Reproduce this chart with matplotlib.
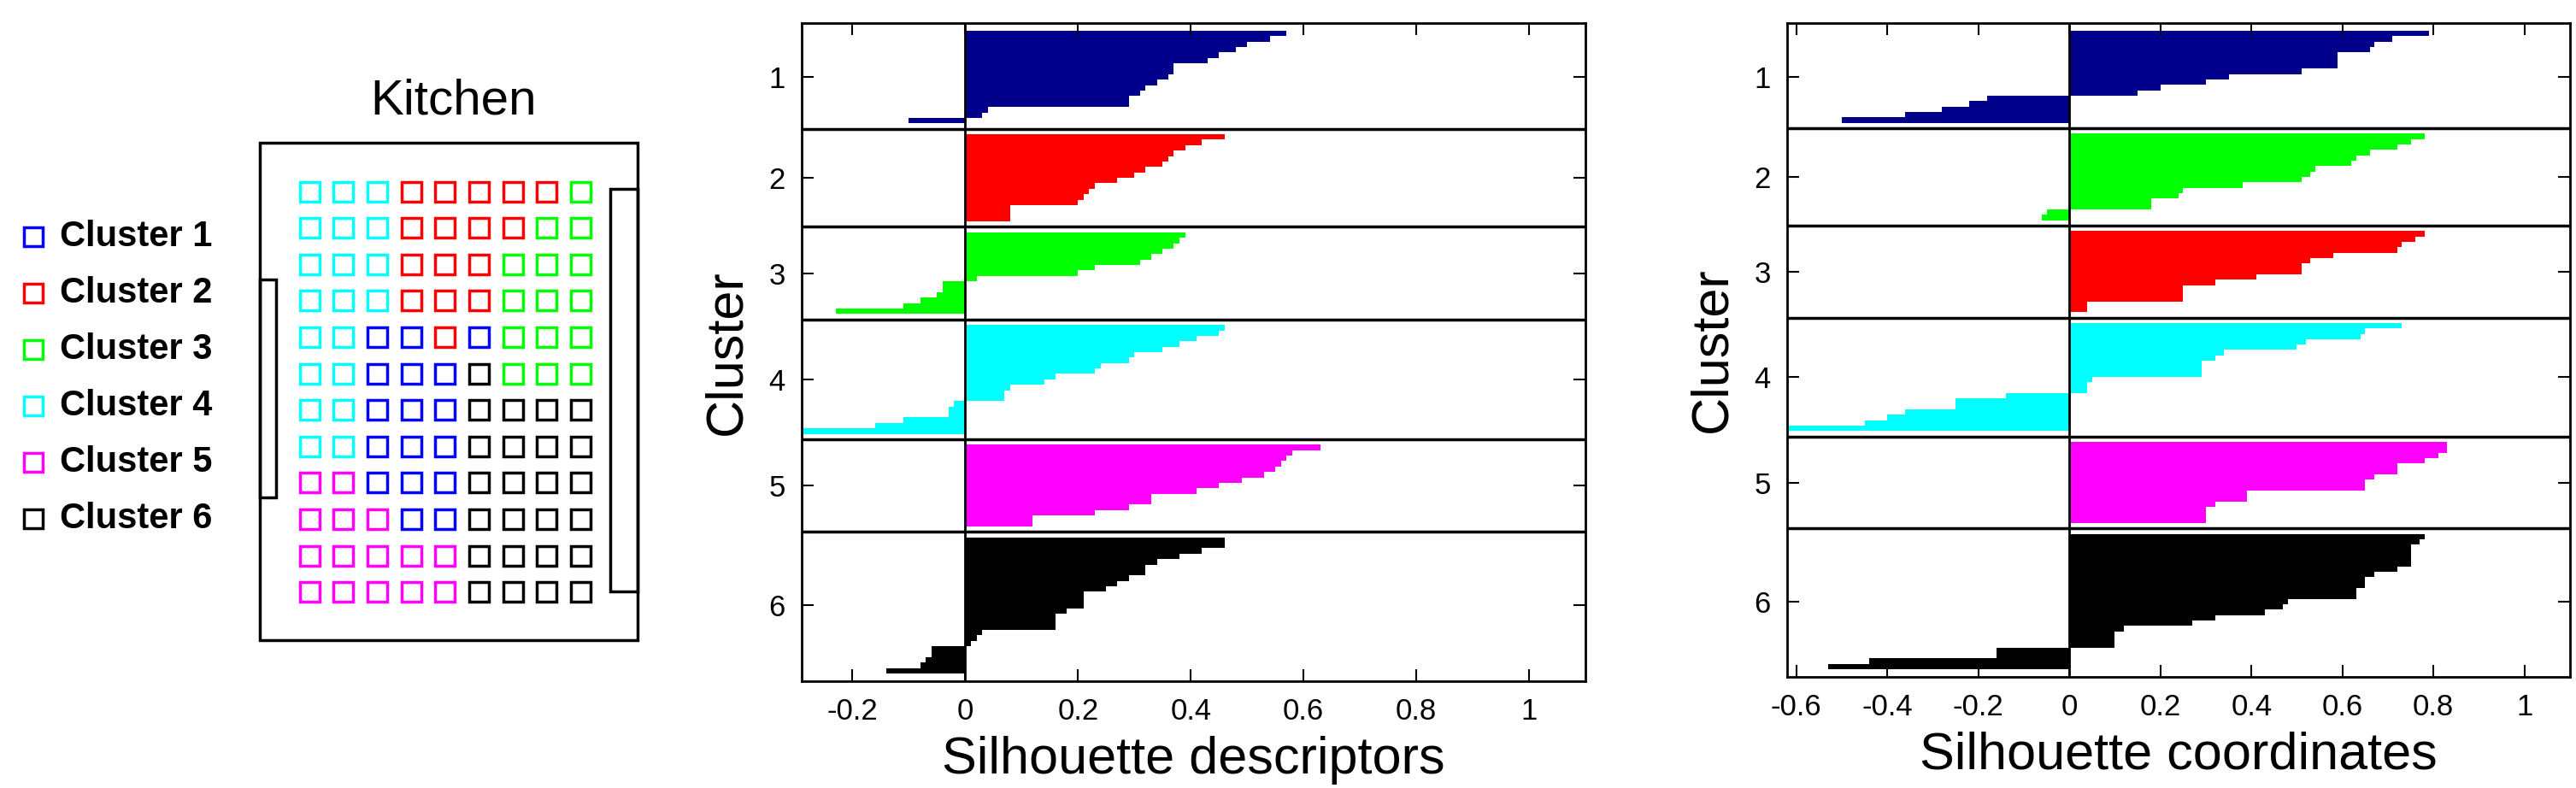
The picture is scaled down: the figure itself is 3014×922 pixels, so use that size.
import numpy as np
import matplotlib.pyplot as plt
from matplotlib.patches import Rectangle

plt.rcParams['font.family'] = ['Liberation Sans', 'DejaVu Sans']

# Room layout: cluster number per seat (12 rows x 9 columns)
grid = [
    [4, 4, 4, 2, 2, 2, 2, 2, 3],
    [4, 4, 4, 2, 2, 2, 2, 3, 3],
    [4, 4, 4, 2, 2, 2, 3, 3, 3],
    [4, 4, 4, 2, 2, 2, 3, 3, 3],
    [4, 4, 1, 1, 2, 1, 3, 3, 3],
    [4, 4, 1, 1, 1, 6, 3, 3, 3],
    [4, 4, 1, 1, 1, 6, 6, 6, 6],
    [4, 4, 1, 1, 1, 6, 6, 6, 6],
    [5, 5, 1, 1, 1, 6, 6, 6, 6],
    [5, 5, 5, 1, 1, 6, 6, 6, 6],
    [5, 5, 5, 5, 5, 6, 6, 6, 6],
    [5, 5, 5, 5, 5, 6, 6, 6, 6],
]
cluster_colors = {1: '#0000ff', 2: '#ff0000', 3: '#00ff00', 4: '#00ffff', 5: '#ff00ff', 6: '#000000'}
legend_labels = ['Cluster 1', 'Cluster 2', 'Cluster 3', 'Cluster 4', 'Cluster 5', 'Cluster 6']

# Silhouette values per cluster (sorted, top to bottom)
desc_vals = [
    [0.57, 0.54, 0.50, 0.48, 0.45, 0.43, 0.37, 0.37, 0.36, 0.34, 0.32, 0.31, 0.29, 0.29, 0.04, 0.03, -0.10],
    [0.46, 0.42, 0.39, 0.37, 0.36, 0.35, 0.32, 0.30, 0.27, 0.23, 0.22, 0.21, 0.20, 0.08, 0.08, 0.08],
    [0.39, 0.38, 0.37, 0.35, 0.33, 0.31, 0.23, 0.20, 0.02, -0.04, -0.04, -0.05, -0.08, -0.11, -0.23],
    [0.46, 0.45, 0.41, 0.38, 0.35, 0.30, 0.29, 0.24, 0.23, 0.16, 0.14, 0.08, 0.07, 0.07,
     -0.02, -0.03, -0.03, -0.11, -0.16, -0.29],
    [0.63, 0.58, 0.57, 0.56, 0.55, 0.53, 0.49, 0.45, 0.41, 0.33, 0.33, 0.29, 0.23, 0.12, 0.12],
    [0.46, 0.46, 0.42, 0.38, 0.34, 0.32, 0.32, 0.29, 0.27, 0.25, 0.21, 0.21, 0.21, 0.18, 0.16,
     0.16, 0.16, 0.03, 0.02, 0.01, -0.06, -0.06, -0.07, -0.08, -0.14],
]
desc_colors = ['#00008b', '#ff0000', '#00ff00', '#00ffff', '#ff00ff', '#000000']

coord_vals = [
    [0.79, 0.71, 0.67, 0.66, 0.59, 0.59, 0.59, 0.51, 0.35, 0.30, 0.20, 0.15,
     -0.18, -0.22, -0.28, -0.36, -0.50],
    [0.78, 0.75, 0.72, 0.66, 0.63, 0.62, 0.54, 0.53, 0.51, 0.38, 0.25, 0.24, 0.18, 0.18, -0.05, -0.06],
    [0.78, 0.76, 0.73, 0.72, 0.58, 0.53, 0.51, 0.51, 0.41, 0.32, 0.25, 0.25, 0.25, 0.04, 0.04],
    [0.73, 0.65, 0.64, 0.52, 0.50, 0.34, 0.32, 0.29, 0.29, 0.29, 0.05, 0.04, 0.04,
     -0.14, -0.25, -0.25, -0.36, -0.40, -0.45, -0.62],
    [0.83, 0.83, 0.81, 0.78, 0.72, 0.72, 0.67, 0.65, 0.65, 0.39, 0.39, 0.32, 0.30, 0.30, 0.30],
    [0.78, 0.77, 0.75, 0.75, 0.75, 0.75, 0.72, 0.67, 0.65, 0.65, 0.63, 0.63, 0.48, 0.47, 0.43,
     0.32, 0.27, 0.12, 0.10, 0.10, 0.10, -0.16, -0.16, -0.44, -0.53],
]
coord_colors = ['#00008b', '#00ff00', '#ff0000', '#00ffff', '#ff00ff', '#000000']

W, H = 3014, 922
fig = plt.figure(figsize=(W / 100, H / 100), dpi=100)

# ---- Left panel: room layout, pixel coordinates ----
ax0 = fig.add_axes([0, 0, 800 / W, 1])
ax0.set_xlim(0, 800)
ax0.set_ylim(H, 0)
ax0.axis('off')
ax0.text(531, 119, 'Kitchen', fontsize=42, ha='center', va='center')
ax0.add_patch(Rectangle((304, 167), 442, 582, fill=False, lw=2.5, ec='black'))
ax0.add_patch(Rectangle((304, 327), 19, 255, fill=False, lw=2.5, ec='black'))
ax0.add_patch(Rectangle((714, 221), 32, 471, fill=False, lw=2.5, ec='black'))
sq = 23
for r, row in enumerate(grid):
    for c, k in enumerate(row):
        cx = 362 + c * 39.7
        cy = 224 + r * 42.6
        ax0.add_patch(Rectangle((cx - sq / 2, cy - sq / 2), sq, sq, fill=False,
                                lw=2.5, ec=cluster_colors[k]))
for i, lab in enumerate(legend_labels):
    y = 277 + i * 66
    ax0.add_patch(Rectangle((39 - 11, y - 11), 22, 22, fill=False, lw=2.5, ec=cluster_colors[i + 1]))
    ax0.text(70, y, lab, fontsize=30, fontweight='bold', va='center', ha='left')


def silhouette(ax, vals, colors, xmin, xlabel, gap=2.0, margin=1.4):
    y = margin
    centers = []
    for i, (v, col) in enumerate(zip(vals, colors)):
        pos = y + np.arange(len(v)) + 0.5
        ax.barh(pos, v, height=1.0, color=col, edgecolor='none')
        centers.append(y + len(v) / 2)
        y += len(v)
        if i < len(vals) - 1:
            ax.axhline(y + gap / 2, color='black', lw=2.5)
            y += gap
    y += margin
    ax.axvline(0, color='black', lw=2)
    ax.set_yticks(centers)
    ax.set_yticklabels([str(i + 1) for i in range(len(vals))])
    ax.set_xticks([-0.6, -0.4, -0.2, 0, 0.2, 0.4, 0.6, 0.8, 1])
    ax.set_xticklabels(['-0.6', '-0.4', '-0.2', '0', '0.2', '0.4', '0.6', '0.8', '1'])
    ax.set_ylim(y, 0)
    ax.set_xlim(xmin, 1.1)
    ax.tick_params(direction='in', length=10, width=1.5, labelsize=25, top=True, right=True, pad=14)
    for s in ax.spines.values():
        s.set_linewidth(2)
    ax.set_xlabel(xlabel, fontsize=44, labelpad=8)
    ax.set_ylabel('Cluster', fontsize=44, labelpad=14)


ax1 = fig.add_axes([938 / W, 1 - 797 / H, (1855 - 938) / W, (797 - 27) / H])
silhouette(ax1, desc_vals, desc_colors, -0.29, 'Silhouette descriptors')

ax2 = fig.add_axes([2091 / W, 1 - 792 / H, (3007 - 2091) / W, (792 - 27) / H])
silhouette(ax2, coord_vals, coord_colors, -0.62, 'Silhouette coordinates')

fig.savefig('out.png', dpi=100)
